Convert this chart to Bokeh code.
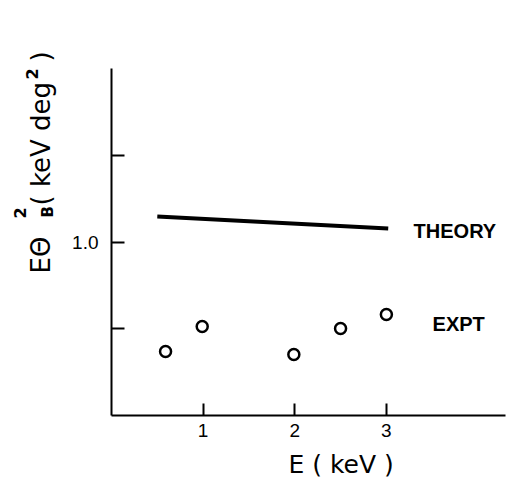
import math
from bokeh.plotting import figure
from bokeh.models import Range1d, FixedTicker, Label, LinearAxis, Title
from bokeh.layouts import row
from bokeh.core.properties import value
from bokeh.embed import file_html
from bokeh.resources import INLINE

# Data
theory_E = [0.50, 3.02]
theory_val = [1.147, 1.078]
expt_E = [0.59, 0.99, 1.99, 2.50, 3.00]
expt_val = [0.369, 0.513, 0.352, 0.501, 0.582]
x_ticks = [1, 2, 3]
y_ticks = [0.5, 1.0, 1.5]
y_tick_labels = {0.5: "", 1.0: "1.0", 1.5: ""}

FONT = "Liberation Sans"
TFONT = "DejaVu Sans"
H = 488
STRIP_W = 60
BOTTOM = 73
PX_PER_Y = 173.5

# ---------- main chart ----------
p = figure(width=507 - STRIP_W, height=H, output_backend="svg", toolbar_location=None,
           title=None,
           x_range=Range1d(0, 4.3), y_range=Range1d(0, (H - BOTTOM) / PX_PER_Y),
           x_axis_type=None, y_axis_type=None)
p.min_border_left = 111 - STRIP_W
p.min_border_right = 2
p.min_border_top = 0
p.min_border_bottom = BOTTOM
p.outline_line_color = None
p.background_fill_color = "white"
p.border_fill_color = "white"
p.xgrid.visible = False
p.ygrid.visible = False

xaxis = LinearAxis(ticker=FixedTicker(ticks=x_ticks))
xaxis.axis_line_width = 2
xaxis.major_tick_line_width = 2
xaxis.major_tick_in = 12
xaxis.major_tick_out = 0
xaxis.minor_tick_line_color = None
xaxis.major_label_text_font = FONT
xaxis.major_label_text_font_size = "19px"
xaxis.major_label_text_color = "black"
xaxis.major_label_standoff = 8
xaxis.axis_line_color = "black"
xaxis.major_tick_line_color = "black"
p.add_layout(xaxis, "below")

yaxis = LinearAxis(ticker=FixedTicker(ticks=y_ticks), bounds=(0, 2.0))
yaxis.major_label_overrides = y_tick_labels
yaxis.axis_line_width = 2
yaxis.major_tick_line_width = 2
yaxis.major_tick_in = 13
yaxis.major_tick_out = 0
yaxis.minor_tick_line_color = None
yaxis.major_label_text_font = FONT
yaxis.major_label_text_font_size = "19px"
yaxis.major_label_text_color = "black"
yaxis.major_label_standoff = 13
yaxis.axis_line_color = "black"
yaxis.major_tick_line_color = "black"
p.add_layout(yaxis, "left")

xtitle = Title(text="E ( keV )", align="left", offset=177, standoff=17,
               text_font=TFONT, text_font_size="25px", text_font_style="normal",
               text_color="black")
p.add_layout(xtitle, "below")

p.line(theory_E, theory_val, line_width=4, line_color="black")
p.scatter(expt_E, expt_val, marker="circle", size=11, fill_color="white",
          line_color="black", line_width=2.5)

def lab(x, y, text, size):
    p.add_layout(Label(x=x, y=y, text=text, text_font=FONT,
                       text_font_size=size, text_font_style="bold",
                       text_color="black", text_baseline="alphabetic",
                       text_align="left"))

lab(3.297, 1.066, "THEORY", "20px")
lab(3.504, 0.530, "EXPT", "20px")

# ---------- strip holding the rotated y-axis title ----------
s = figure(width=STRIP_W, height=H, output_backend="svg", toolbar_location=None,
           title=None,
           x_range=Range1d(0, STRIP_W), y_range=Range1d(BOTTOM, H),
           x_axis_type=None, y_axis_type=None, min_border=0)
s.min_border_bottom = BOTTOM
s.min_border_top = 0
s.outline_line_color = None
s.xgrid.visible = False
s.ygrid.visible = False
s.background_fill_color = "white"
s.border_fill_color = "white"

r = math.pi / 2
def stext(px, py, text, size, weight):
    s.text(x=[px], y=[H - py], text=[text], angle=r,
           text_font=value(TFONT), text_font_size=value(f"{size}px"),
           text_font_style=weight, text_color="black",
           text_baseline="alphabetic", text_align="left")

stext(40.9, 273, "EΘ", 26, "normal")
stext(19.4, 218, "2", 16, "bold")
stext(47.8, 217, "B", 15, "bold")
stext(40.9, 205, "( keV deg", 26, "normal")
stext(31.4, 79, "2", 16, "bold")
stext(40.9, 61, ")", 26, "normal")

layout = row(s, p, spacing=0)
open("out.html", "w").write(file_html(layout, INLINE))
